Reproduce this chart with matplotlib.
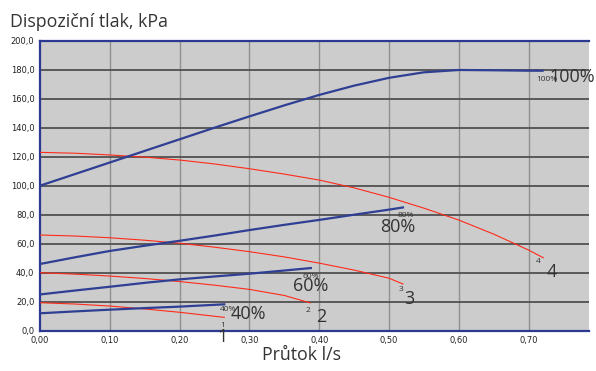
import matplotlib
matplotlib.use('Agg')
from matplotlib import pyplot as plt
from matplotlib.ticker import FuncFormatter

# Pump curves (blue) - flow l/s vs pressure kPa
pump100_x = [0.00, 0.05, 0.10, 0.15, 0.20, 0.25, 0.30, 0.35, 0.40, 0.45, 0.50, 0.55, 0.60, 0.65, 0.70, 0.72]
pump100_y = [100.0, 108.0, 116.0, 124.0, 132.0, 140.0, 147.8, 155.4, 162.6, 169.0, 174.4, 178.2, 179.8, 179.6, 179.3, 179.3]
pump80_x = [0.00, 0.05, 0.10, 0.15, 0.20, 0.25, 0.30, 0.35, 0.40, 0.45, 0.50, 0.52]
pump80_y = [46.0, 50.6, 55.0, 58.6, 62.0, 65.6, 69.4, 73.0, 76.4, 80.0, 83.5, 85.0]
pump60_x = [0.00, 0.05, 0.10, 0.15, 0.20, 0.25, 0.30, 0.35, 0.388]
pump60_y = [25.0, 27.7, 30.3, 33.0, 35.4, 37.4, 39.3, 41.5, 43.2]
pump40_x = [0.00, 0.05, 0.10, 0.15, 0.20, 0.264]
pump40_y = [12.0, 13.3, 14.5, 15.6, 16.6, 18.2]

# System curves (red)
sys4_x = [0.00, 0.05, 0.10, 0.15, 0.20, 0.25, 0.30, 0.35, 0.40, 0.45, 0.50, 0.55, 0.60, 0.65, 0.70, 0.721]
sys4_y = [123.0, 122.4, 121.2, 119.7, 117.7, 115.0, 111.7, 108.0, 103.9, 98.5, 92.0, 84.5, 76.3, 66.6, 55.6, 50.3]
sys3_x = [0.00, 0.05, 0.10, 0.15, 0.20, 0.25, 0.30, 0.35, 0.40, 0.45, 0.50, 0.52]
sys3_y = [66.0, 65.3, 64.1, 62.4, 60.3, 57.6, 54.5, 50.9, 46.6, 41.8, 36.2, 32.2]
sys2_x = [0.00, 0.05, 0.10, 0.15, 0.20, 0.25, 0.30, 0.35, 0.387]
sys2_y = [40.0, 39.0, 37.7, 36.0, 33.9, 31.4, 28.5, 24.3, 19.2]
sys1_x = [0.00, 0.05, 0.10, 0.15, 0.20, 0.264]
sys1_y = [19.3, 18.4, 17.0, 15.0, 12.7, 9.2]

pump_curves = [(pump100_x, pump100_y), (pump80_x, pump80_y),
               (pump60_x, pump60_y), (pump40_x, pump40_y)]
sys_curves = [(sys4_x, sys4_y), (sys3_x, sys3_y), (sys2_x, sys2_y), (sys1_x, sys1_y)]

# curve labels: text, small (x, y), big (x, y)
label_texts = ["100%", "80%", "60%", "40%", "4", "3", "2", "1"]
small_pos = [(0.726, 172.9), (0.524, 79.3), (0.388, 37.7), (0.269, 14.3),
             (0.714, 47.6), (0.517, 28.1), (0.3835, 13.8), (0.261, 3.9)]
big_pos = [(0.762, 175.0), (0.513, 71.3), (0.388, 31.0), (0.2985, 11.5),
           (0.733, 40.7), (0.529, 21.7), (0.4036, 9.7), (0.261, -4.1)]

x_ticks = [0.0, 0.1, 0.2, 0.3, 0.4, 0.5, 0.6, 0.7]
y_ticks = [0, 20, 40, 60, 80, 100, 120, 140, 160, 180, 200]

blue = "#2e3f94"
red = "#ff2a1a"
navy = "#2b3990"

plt.rcParams['font.family'] = ['Open Sans', 'DejaVu Sans']

fig = plt.figure(figsize=(5.96, 3.71), dpi=100)
ax = fig.add_axes([40 / 596, 1 - 330.7 / 371, 549 / 596, 290 / 371])
ax.set_facecolor("#cccccc")

ax.set_xlim(0, 0.7865)
ax.set_ylim(0, 200)
ax.set_xticks(x_ticks)
ax.set_yticks(y_ticks)
ax.xaxis.set_major_formatter(FuncFormatter(lambda v, p: f"{v:.2f}".replace(".", ",")))
ax.yaxis.set_major_formatter(FuncFormatter(lambda v, p: f"{v:.1f}".replace(".", ",")))
ax.tick_params(length=0, labelsize=6, colors="#222222", pad=4)
for lab in ax.get_xticklabels() + ax.get_yticklabels():
    lab.set_family(['DejaVu Sans'])

for t in x_ticks[1:]:
    ax.axvline(t, color="#8f8f8f", lw=1.0, zorder=1)
for t in y_ticks[1:-1]:
    ax.axhline(t, color="#505050", lw=1.3, zorder=1)

ax.spines["right"].set_visible(False)
for s in ["left", "bottom", "top"]:
    ax.spines[s].set_color(navy)
    ax.spines[s].set_linewidth(1.6)

for xs, ys in sys_curves:
    ax.plot(xs, ys, color=red, lw=0.8, zorder=3, solid_joinstyle="round")
for xs, ys in pump_curves:
    ax.plot(xs, ys, color=blue, lw=1.6, zorder=4, solid_joinstyle="round")

for txt, (sx, sy), (bx, by) in zip(label_texts, small_pos, big_pos):
    ax.text(sx, sy, txt, fontsize=6, color="#333333", ha="center", va="center",
            zorder=5, clip_on=False)
    ax.text(bx, by, txt, fontsize=13, color="#333333", ha="center", va="center",
            zorder=5, clip_on=False)

fig.text(10 / 596, 1 - 22 / 371, "Dispoziční tlak, kPa", fontsize=12.8,
         color="#333333", ha="left", va="center")
fig.text(302 / 596, 1 - 355 / 371, "Průtok l/s", fontsize=12.8,
         color="#333333", ha="center", va="center")

fig.savefig("out.png", dpi=100)
